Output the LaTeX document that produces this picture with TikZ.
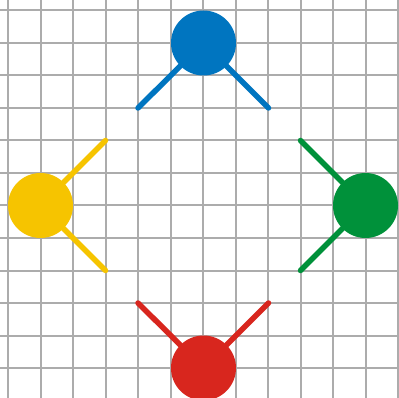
\documentclass[tikz,border=0pt]{standalone}
\definecolor{gridgray}{RGB}{172,172,172}
\definecolor{cblue}{RGB}{0,117,192}
\definecolor{cyellow}{RGB}{246,196,0}
\definecolor{cgreen}{RGB}{0,145,58}
\definecolor{cred}{RGB}{216,38,30}
\begin{document}
\begin{tikzpicture}[x=1pt,y=-1pt,
  gridline/.style={draw=gridgray,line width=2pt},
  ball/.style={circle,fill=#1,draw=none,minimum size=65pt,inner sep=0pt},
  stick/.style={draw=#1,line width=5.5pt,line cap=round}]
\useasboundingbox (0,0) rectangle (399,398);
\fill[white] (0,0) rectangle (399,398);
\foreach \k in {0,...,12} {
  \draw[gridline] ({8+32.5*\k},0) -- ({8+32.5*\k},398);
}
\foreach \k in {0,...,11} {
  \draw[gridline] (0,{10.5+32.5*\k}) -- (399,{10.5+32.5*\k});
}
% end points
\coordinate (b1) at (138,108);
\coordinate (b2) at (268.5,108);
\coordinate (y1) at (105.5,140.5);
\coordinate (y2) at (105.5,270.5);
\coordinate (g1) at (300.5,140.5);
\coordinate (g2) at (300.5,270.5);
\coordinate (r1) at (138,303);
\coordinate (r2) at (268.5,303);
% balls
\node[ball=cblue] (blue) at (203.5,43) {};
\node[ball=cyellow] (yellow) at (40.5,205.5) {};
\node[ball=cgreen] (green) at (365.5,205.5) {};
\node[ball=cred] (red) at (203.5,368) {};
% sticks
\draw[stick=cblue] (blue) -- (b1);
\draw[stick=cblue] (blue) -- (b2);
\draw[stick=cyellow] (yellow) -- (y1);
\draw[stick=cyellow] (yellow) -- (y2);
\draw[stick=cgreen] (green) -- (g1);
\draw[stick=cgreen] (green) -- (g2);
\draw[stick=cred] (red) -- (r1);
\draw[stick=cred] (red) -- (r2);
\end{tikzpicture}
\end{document}
